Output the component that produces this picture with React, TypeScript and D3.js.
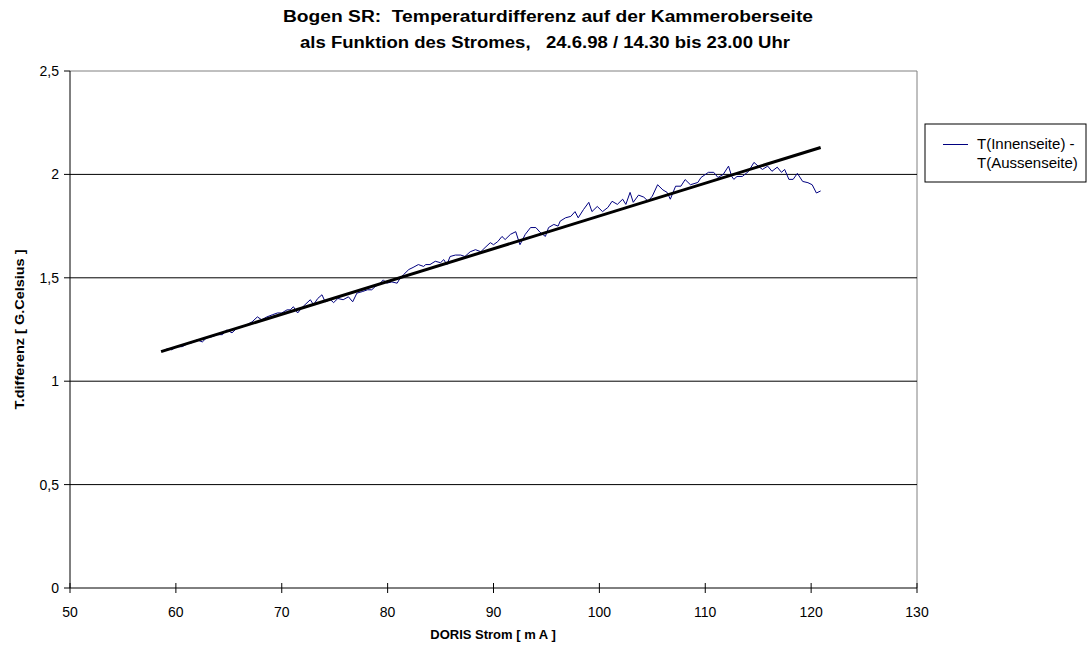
import React from "react";
import * as d3 from "d3";

const titleLines = [
  "Bogen SR:  Temperaturdifferenz auf der Kammeroberseite",
  "als Funktion des Stromes,   24.6.98 / 14.30 bis 23.00 Uhr",
];
const xAxisTitle = "DORIS Strom [ m A ]";
const yAxisTitle = "T.differenz [ G.Celsius ]";
const legendLines = ["T(Innenseite) -", "T(Aussenseite)"];

const xTicks = [50, 60, 70, 80, 90, 100, 110, 120, 130];
const yTicks = [0, 0.5, 1, 1.5, 2, 2.5];
const yTickLabels = ["0", "0,5", "1", "1,5", "2", "2,5"];

const stromX = [
  58.7, 59.2, 59.6, 60.1, 60.6, 61.1, 61.5, 62.0, 62.5, 62.9, 63.4, 63.9, 64.4, 64.8, 65.3, 65.8,
  66.3, 66.7, 67.2, 67.7, 68.1, 68.6, 69.1, 69.6, 70.0, 70.5, 70.8, 71.1, 71.5, 71.9, 72.2, 72.7,
  73.0, 73.4, 73.8, 74.1, 74.6, 74.9, 75.3, 75.8, 76.3, 76.7, 77.1, 77.6, 78.1, 78.5, 78.8, 79.3,
  79.6, 79.9, 80.4, 80.9, 81.2, 81.5, 82.0, 82.4, 82.9, 83.4, 83.6, 84.0, 84.5, 85.0, 85.3, 85.6,
  85.9, 86.4, 86.9, 87.3, 87.8, 88.3, 88.8, 89.2, 89.7, 90.0, 90.4, 90.8, 91.1, 91.6, 92.1, 92.5,
  93.0, 93.5, 94.0, 94.4, 94.9, 95.2, 95.7, 96.1, 96.3, 96.8, 97.3, 97.7, 98.0, 98.5, 99.0, 99.3,
  99.8, 100.3, 100.8, 101.2, 101.7, 102.2, 102.5, 102.9, 103.2, 103.7, 104.2, 104.6, 105.0, 105.5,
  106.0, 106.4, 106.7, 107.2, 107.7, 108.1, 108.6, 109.3, 109.6, 110.3, 110.8, 111.2, 111.7, 112.2,
  112.5, 112.7, 113.0, 113.5, 114.1, 114.6, 115.0, 115.4, 115.9, 116.3, 116.8, 117.2, 117.5, 117.9,
  118.3, 118.7, 119.2, 119.7, 120.1, 120.5, 120.9,
];
const tempDiff = [
  1.143, 1.157, 1.152, 1.167, 1.167, 1.181, 1.186, 1.2, 1.19, 1.21, 1.215, 1.225, 1.225, 1.248, 1.234, 1.258,
  1.263, 1.273, 1.287, 1.311, 1.297, 1.311, 1.321, 1.33, 1.33, 1.345, 1.345, 1.36, 1.33, 1.355, 1.37, 1.394,
  1.37, 1.4, 1.418, 1.384, 1.394, 1.38, 1.4, 1.394, 1.408, 1.384, 1.426, 1.433, 1.442, 1.442, 1.456, 1.474,
  1.49, 1.474, 1.48, 1.474, 1.5, 1.515, 1.54, 1.55, 1.564, 1.555, 1.564, 1.564, 1.58, 1.573, 1.588, 1.564,
  1.603, 1.61, 1.61, 1.603, 1.626, 1.636, 1.626, 1.646, 1.67, 1.66, 1.675, 1.7, 1.685, 1.71, 1.723, 1.66,
  1.71, 1.743, 1.743, 1.72, 1.7, 1.743, 1.758, 1.75, 1.774, 1.79, 1.797, 1.82, 1.79, 1.83, 1.865, 1.82,
  1.845, 1.82, 1.84, 1.87, 1.855, 1.88, 1.855, 1.913, 1.865, 1.9, 1.89, 1.87, 1.895, 1.95,
  1.925, 1.913, 1.88, 1.943, 1.943, 1.975, 1.95, 1.961, 1.985, 2.01, 2.01, 1.985, 2.0, 2.04,
  1.99, 1.976, 1.99, 1.99, 2.015, 2.058, 2.04, 2.024, 2.04, 2.015, 2.035, 2.01, 2.024, 1.976,
  1.976, 2.005, 1.966, 1.96, 1.95, 1.91, 1.92,
];
const trendX = [58.6, 120.9];
const trendY = [1.143, 2.13];

const W = 1087;
const H = 647;
const M = { left: 70, right: 917, top: 71, bottom: 588 };
const FONT = "'Liberation Sans', Arial, sans-serif";

export default function App() {
  const x = d3.scaleLinear().domain([50, 130]).range([M.left, M.right]);
  const y = d3.scaleLinear().domain([0, 2.5]).range([M.bottom, M.top]);

  const data = stromX.map((v, i) => [v, tempDiff[i]] as [number, number]);
  const trend = trendX.map((v, i) => [v, trendY[i]] as [number, number]);
  const line = d3
    .line<[number, number]>()
    .x((d) => x(d[0]))
    .y((d) => y(d[1]));

  const titleWidths = [530, 490];

  return (
    <svg
      width={W}
      height={H}
      style={{ position: "absolute", left: 0, top: 0, background: "#fff" }}
      fontFamily={FONT}
    >
      <rect x={0} y={0} width={W} height={H} fill="#fff" />
      {titleLines.map((t, i) => (
        <text
          key={i}
          x={548 - (i === 1 ? 3 : 0)}
          y={22 + i * 26}
          textAnchor="middle"
          fontSize={16}
          fontWeight="bold"
          fill="#000"
          xmlSpace="preserve"
          style={{ whiteSpace: "pre" }}
          textLength={titleWidths[i]}
          lengthAdjust="spacingAndGlyphs"
        >
          {t}
        </text>
      ))}
      <line x1={M.left} x2={M.right} y1={M.top} y2={M.top} stroke="#808080" strokeWidth={1} />
      <line x1={M.right} x2={M.right} y1={M.top} y2={M.bottom} stroke="#808080" strokeWidth={1} />
      {yTicks
        .filter((t) => t > 0 && t < 2.5)
        .map((t) => (
          <line key={t} x1={M.left} x2={M.right} y1={y(t)} y2={y(t)} stroke="#000" strokeWidth={1} />
        ))}
      <line x1={M.left} x2={M.left} y1={M.top} y2={M.bottom} stroke="#000" strokeWidth={1} />
      <line x1={M.left} x2={M.right} y1={M.bottom} y2={M.bottom} stroke="#000" strokeWidth={1} />
      {yTicks.map((t, i) => (
        <g key={t}>
          <line x1={M.left - 6} x2={M.left} y1={y(t)} y2={y(t)} stroke="#000" />
          <text x={M.left - 11} y={y(t) + 5} textAnchor="end" fontSize={14} fill="#000">
            {yTickLabels[i]}
          </text>
        </g>
      ))}
      {xTicks.map((t) => (
        <g key={t}>
          <line x1={x(t)} x2={x(t)} y1={M.bottom - 5} y2={M.bottom + 5} stroke="#000" />
          <text x={x(t)} y={M.bottom + 29} textAnchor="middle" fontSize={14} fill="#000">
            {t}
          </text>
        </g>
      ))}
      <text x={493} y={639} textAnchor="middle" fontSize={13} fontWeight="bold" fill="#000">
        {xAxisTitle}
      </text>
      <text
        transform={`translate(24,${(M.top + M.bottom) / 2}) rotate(-90)`}
        textAnchor="middle"
        fontSize={13}
        fontWeight="bold"
        fill="#000"
        textLength={160}
        lengthAdjust="spacingAndGlyphs"
      >
        {yAxisTitle}
      </text>
      <path d={line(data) ?? ""} fill="none" stroke="#000080" strokeWidth={1} />
      <path d={line(trend) ?? ""} fill="none" stroke="#000" strokeWidth={3} />
      <rect x={925} y={124} width={161} height={58} fill="#fff" stroke="#000" strokeWidth={1} />
      <line x1={943} x2={968} y1={144.5} y2={144.5} stroke="#000080" strokeWidth={1} />
      {legendLines.map((t, i) => (
        <text key={i} x={977} y={149 + i * 19} fontSize={15} fill="#000">
          {t}
        </text>
      ))}
    </svg>
  );
}
